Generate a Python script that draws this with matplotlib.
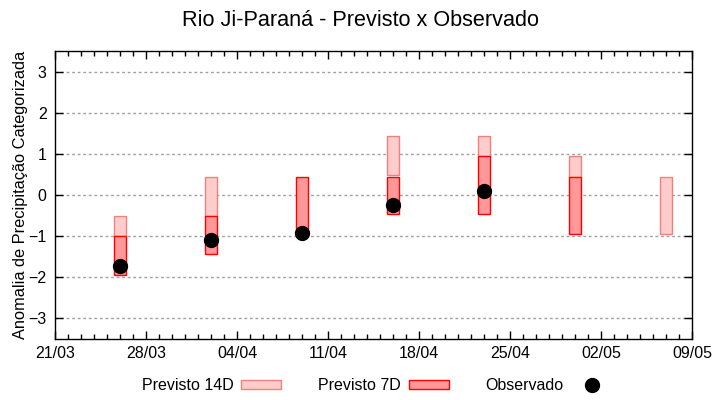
import numpy as np
import pandas as pd
import matplotlib
matplotlib.use('Agg')
import matplotlib.pyplot as plt
import matplotlib.dates as mdates

plt.rcParams['font.family'] = ['Liberation Sans', 'DejaVu Sans']

# semanas de previsao
dates = pd.to_datetime(['2023-03-26', '2023-04-02', '2023-04-09', '2023-04-16',
                        '2023-04-23', '2023-04-30', '2023-05-07'])
p14_low = [-1.0, -0.52, np.nan, 0.49, 0.94, 0.44, -0.96]
p14_high = [-0.52, 0.44, np.nan, 1.43, 1.43, 0.94, 0.44]
p7_low = [-1.95, -1.44, -0.95, -0.45, -0.45, -0.96, np.nan]
p7_high = [-1.0, -0.52, 0.44, 0.44, 0.94, 0.44, np.nan]
observado = [-1.72, -1.10, -0.93, -0.24, 0.09, np.nan, np.nan]

x_start, x_end = '2023-03-21', '2023-05-09'

fig = plt.figure(figsize=(7.2, 4.0), dpi=100)
ax = fig.add_axes([55/720, 1 - 339/400, 637/720, 288/400])

x = mdates.date2num(dates)
h14 = np.array(p14_high) - np.array(p14_low)
h7 = np.array(p7_high) - np.array(p7_low)
b14 = ax.bar(x, h14, bottom=p14_low, width=0.9, color='#ffcccc',
             edgecolor='#f08080', linewidth=1.0, zorder=2, label='Previsto 14D')
b7 = ax.bar(x, h7, bottom=p7_low, width=0.9, color='#ff9999',
            edgecolor='#ff0000', linewidth=1.0, zorder=3, label='Previsto 7D')
obs, = ax.plot(x, observado, 'o', color='black', markersize=10, zorder=4,
               linestyle='none', label='Observado')

ax.set_xlim(mdates.date2num(pd.Timestamp(x_start)), mdates.date2num(pd.Timestamp(x_end)))
ax.set_ylim(-3.5, 3.5)
ax.set_yticks(range(-3, 4))
ax.set_xticks(mdates.date2num(pd.date_range(x_start, x_end, freq='7D')))
ax.xaxis.set_major_formatter(mdates.DateFormatter('%d/%m'))
ax.xaxis.set_minor_locator(mdates.DayLocator())

ax.grid(axis='y', color='#a0a0a0', linestyle=(0, (2, 2)), linewidth=1.0, zorder=1)
ax.set_axisbelow(True)
ax.tick_params(which='both', direction='in', top=True, right=True, labelsize=11.5,
               width=1.0, colors='black')
ax.tick_params(which='major', length=6)
ax.tick_params(which='minor', length=3.5)
ax.tick_params(axis='y', pad=6)
ax.tick_params(axis='x', pad=5)
for s in ax.spines.values():
    s.set_linewidth(1.0)

ax.set_ylabel('Anomalia de Precipitação Categorizada', fontsize=11.8, labelpad=0)
fig.suptitle('Rio Ji-Paraná - Previsto x Observado', fontsize=15.6, y=0.975)

ax.legend(handles=[b14, b7, obs], loc='center', bbox_to_anchor=(0.505, -0.163),
          ncol=3, frameon=False, fontsize=11.5, markerfirst=False,
          handlelength=2.5, handleheight=0.45, handletextpad=0.5,
          columnspacing=2.3)

fig.savefig('out.png', dpi=100)
